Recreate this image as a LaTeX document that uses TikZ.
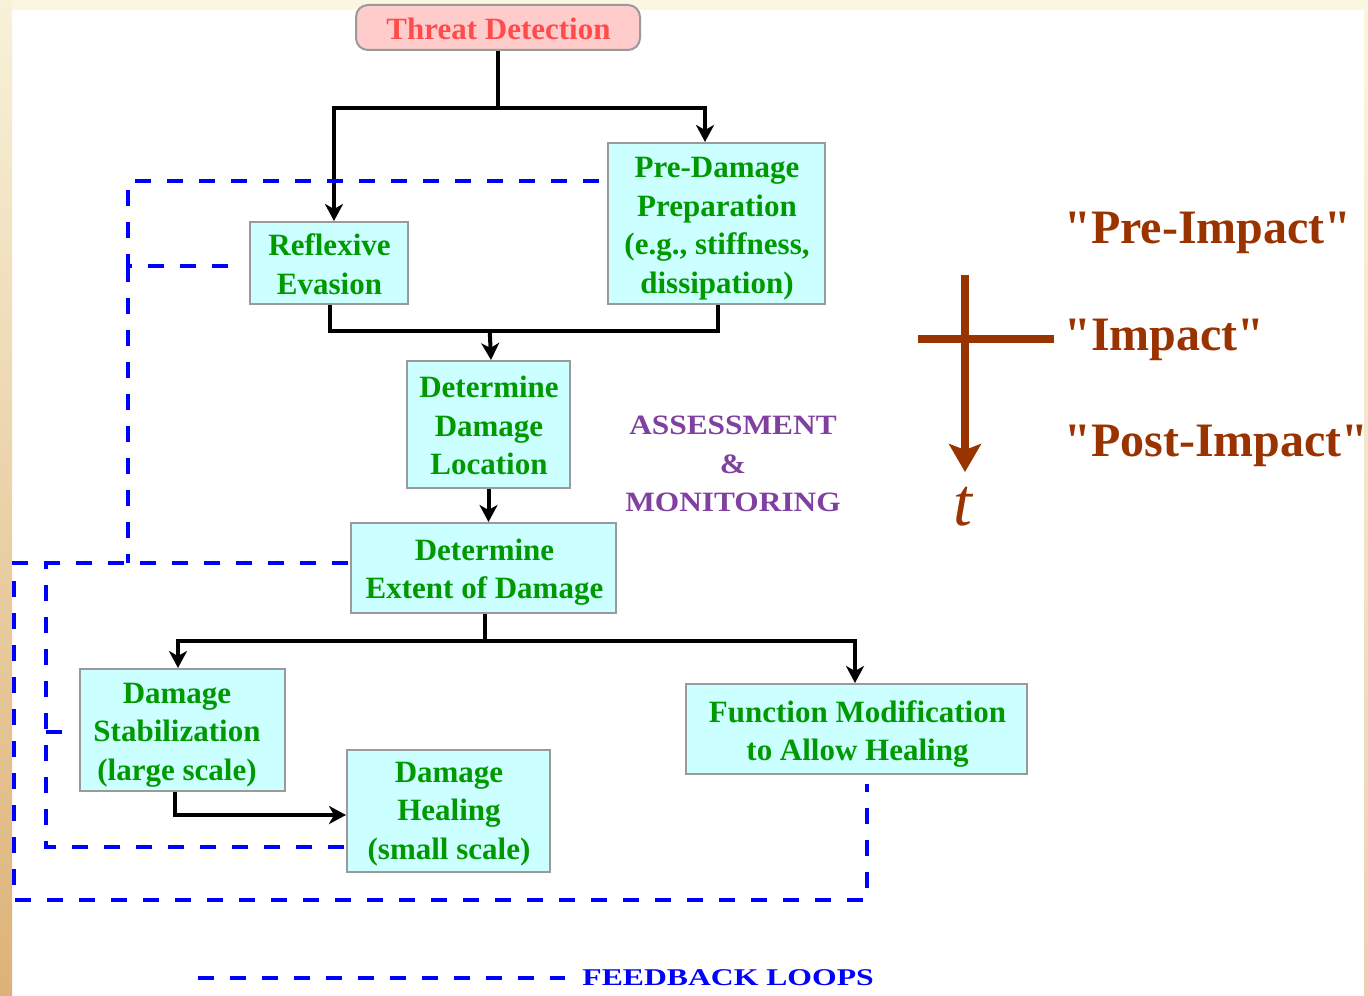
\documentclass[tikz,border=0pt]{standalone}
\usepackage{fontspec}
\setmainfont{Liberation Serif}[Ligatures=TeXOff]
\usetikzlibrary{arrows.meta,calc}
\definecolor{boxfill}{HTML}{CCFFFF}
\definecolor{boxgray}{HTML}{9A9A9A}
\definecolor{boxgreen}{HTML}{009900}
\definecolor{threatfill}{HTML}{FFCCCC}
\definecolor{threattext}{HTML}{FF4B4B}
\definecolor{assess}{HTML}{8040A0}
\definecolor{timebrown}{HTML}{993300}
\definecolor{bgtop}{HTML}{FBF6E1}
\definecolor{bgA}{HTML}{F8F2DA}
\definecolor{bgB}{HTML}{DDB278}
\tikzset{
  boxshape/.style={draw=boxgray, fill=boxfill, line width=1pt, inner sep=0pt},
  boxtext/.style={text=boxgreen, font=\bfseries\fontsize{15.5}{19.25}\selectfont, align=center, inner sep=0pt},
  conn/.style={draw=black, line width=2pt, -{Stealth[length=8.5pt,width=9pt,inset=2.5pt]}},
  plain/.style={draw=black, line width=2pt},
  fb/.style={draw=blue, line width=2pt, dash pattern=on 8pt off 8pt},
  timelbl/.style={text=timebrown, font=\bfseries\fontsize{24}{28}\selectfont, anchor=base west, inner sep=0pt}
}
\begin{document}
\begin{tikzpicture}[x=0.5pt,y=-0.5pt]
\useasboundingbox (0,0) rectangle (1368,995);
% background
\fill[white] (0,0) rectangle (1368,995);
\fill[bgtop] (0,0) rectangle (1368,10);
\shade[top color=bgA, bottom color=bgB] (0,0) rectangle (12,995);
\shade[top color=bgtop, bottom color=bgB!60] (1364,0) rectangle (1368,995);

% boxes
\node[boxshape, fill=threatfill, rounded corners=6pt,
  minimum width=142pt, minimum height=22.5pt] (threat) at (498,27.5) {};
\node[boxtext, text=threattext] (threat-t) at ([shift={(0.5,1)}]threat.center) {Threat Detection};

\node[boxshape, minimum width=79pt, minimum height=41pt] (refl) at (329,263) {};
\node[boxtext] (refl-t) at ([shift={(0.5,1)}]refl.center) {Reflexive\\Evasion};

\node[boxshape, minimum width=108.5pt, minimum height=80.5pt] (pre) at (716.5,223.5) {};
\node[boxtext] (pre-t) at ([shift={(0.5,5)}]pre.center) {Pre-Damage\\Preparation\\(e.g., stiffness,\\dissipation)};

\node[boxshape, minimum width=81.5pt, minimum height=63.5pt] (loc) at (488.5,424.5) {};
\node[boxtext] (loc-t) at ([shift={(0.5,1)}]loc.center) {Determine\\Damage\\Location};

\node[boxshape, minimum width=132.5pt, minimum height=45pt] (ext) at (483.5,568) {};
\node[boxtext] (ext-t) at ([shift={(1,4)}]ext.center) {Determine\\Extent of Damage};

\node[boxshape, minimum width=102.5pt, minimum height=61pt] (stab) at (182.5,730) {};
\node[boxtext] (stab-t) at ([shift={(-5.5,5)}]stab.center) {Damage\\Stabilization\\(large scale)};

\node[boxshape, minimum width=101.5pt, minimum height=61pt] (heal) at (448.5,811) {};
\node[boxtext] (heal-t) at ([shift={(0.5,3)}]heal.center) {Damage\\Healing\\(small scale)};

\node[boxshape, minimum width=170.5pt, minimum height=45pt] (func) at (856.5,729) {};
\node[boxtext] (func-t) at ([shift={(1,5)}]func.center) {Function Modification\\to Allow Healing};

\node[text=assess, font=\bfseries\fontsize{14}{19.25}\selectfont, align=center, inner sep=0pt] (assessment) at (733,464)
  {\scalebox{1.12}[1]{ASSESSMENT}\\\scalebox{1.12}[1]{\&}\\\scalebox{1.12}[1]{MONITORING}};

% black connectors
\draw[plain] (threat.south) -- ++(0,57) coordinate (tj);
\draw[conn] (tj) -| ([xshift=2.5pt]refl.north);
\draw[conn] (tj) -| ([xshift=-5.75pt]pre.north);
\draw[plain] ([xshift=0.5pt]refl.south) -- ++(0,26) coordinate (rj) -| ([xshift=0.75pt]pre.south);
\draw[conn] (rj -| loc.north) ++(1.25,0) -- ([xshift=1.25pt]loc.north);
\draw[conn] (loc.south) -- (loc.south |- ext.north);
\draw[plain] ([xshift=0.75pt]ext.south) -- ++(0,27) coordinate (ej);
\draw[conn] (ej) -| ([xshift=-2.25pt]stab.north);
\draw[conn] (ej) -| ([xshift=-0.75pt]func.north);
\draw[conn] ([xshift=-3.75pt]stab.south) |- ([yshift=-2pt]heal.west);

% feedback loops
\draw[fb] ([shift={(-8,-42.5)}]pre.west) -| (128,266) coordinate (fa) -- ([shift={(-10,3)}]refl.west);
\draw[fb] (fa) -- (128,563);
\draw[fb] ([shift={(-2,-5)}]ext.west) -- (14,563) -- (14,900) -| ([shift={(10.5,9)}]func.south);
\draw[fb] ([shift={(-2,36)}]heal.west) -- (46,847) -- (46,563);
\draw[fb] (46,732) -- ([shift={(-2,2)}]stab.west);

% legend
\coordinate (lg) at (198,978);
\node[text=blue, font=\bfseries\fontsize{12}{14}\selectfont, anchor=west, inner sep=0pt] (legend) at (582,978)
  {\scalebox{1.32}[1]{FEEDBACK LOOPS}};
\draw[fb] (lg) -- ([xshift=-8.5pt]legend.west);

% time axis
\coordinate (ttop) at (965,275);
\coordinate (hl) at (918,339);
\coordinate (hr) at (1054,339);
\node[text=timebrown, font=\itshape\fontsize{34}{40}\selectfont, inner sep=0pt] (tlabel) at (963,507) {t};
\draw[timebrown, line width=3.75pt, -{Stealth[length=14pt,width=16pt,inset=3pt]}] (ttop) -- (965,472);
\draw[timebrown, line width=3.75pt] (hl) -- (hr);
\node[timelbl] (preimp) at (1064,243) {"Pre-Impact"};
\node[timelbl] (imp) at (1064,350) {"Impact"};
\node[timelbl] (postimp) at (1064,456) {"Post-Impact"};
\end{tikzpicture}
\end{document}
